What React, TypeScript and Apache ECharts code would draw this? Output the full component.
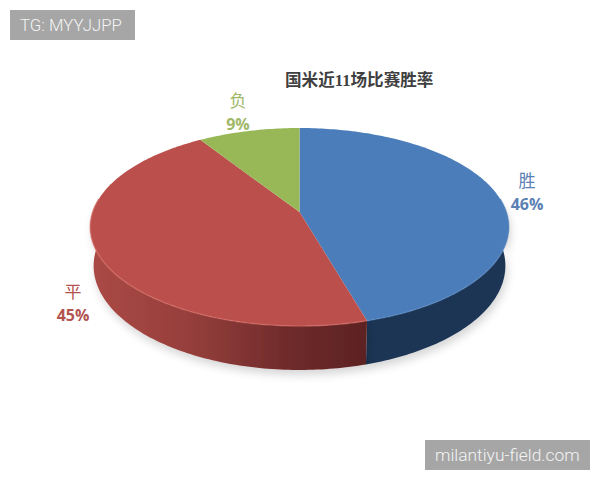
import React, { useEffect, useRef } from "react";
import * as echarts from "echarts";

const categories = ["胜", "平", "负"];
const shares = [45.5, 45.4, 9.1];
const titleText = "国米近11场比赛胜率";
const watermarkLeft = "TG: MYYJJPP";
const watermarkRight = "milantiyu-field.com";

const topColors = ["#4a7db9", "#ba4f4c", "#98b857"];
const textColors = ["#5a80b4", "#b4524f", "#a0b868"];
const rimColors = ["#5c8dc8", "#d86d66", "#a8c868"];
const labelAnchors = [
  [527, 179],
  [73, 290],
  [238, 99],
];

const cx = 299.5;
const k = 0.1515;
const topPlane = { A: 206.8, y0: 212, B: 96.7 };
const basePlane = { A: 203.5, y0: 250, B: 101.8 };

function project(p: { A: number; y0: number; B: number }, deg: number) {
  const a = (deg * Math.PI) / 180;
  const u = Math.sin(a);
  const v = -Math.cos(a);
  const w = 1 - k * v;
  return [cx + (p.A * u) / w, p.y0 + (p.B * v) / w];
}

function arc(p: { A: number; y0: number; B: number }, from: number, to: number) {
  const pts: number[][] = [];
  const n = Math.max(2, Math.ceil(Math.abs(to - from)));
  for (let i = 0; i <= n; i++) pts.push(project(p, from + ((to - from) * i) / n));
  return pts;
}

function wallFill(i: number) {
  if (i === 0) return "#1f3655";
  if (i === 1)
    return new echarts.graphic.LinearGradient(
      90,
      0,
      370,
      0,
      [
        { offset: 0, color: "#ab4945" },
        { offset: 0.35, color: "#963f3c" },
        { offset: 0.7, color: "#702b2b" },
        { offset: 1, color: "#5c2222" },
      ],
      true
    );
  return "#6d8a3e";
}

export default function App() {
  const ref = useRef<HTMLDivElement>(null);
  useEffect(() => {
    const chart = echarts.init(ref.current!, undefined, { renderer: "svg" });
    const total = shares.reduce((s, v) => s + v, 0);
    const renderItem = (params: any, api: any) => {
      const i = params.dataIndex;
      const start = (shares.slice(0, i).reduce((s, v) => s + v, 0) / total) * 360;
      const end = start + (api.value(0) / total) * 360;
      const wallFrom = Math.max(start, 82);
      const wallTo = Math.min(end, 278);
      const children: any[] = [];
      if (wallTo > wallFrom) {
        const outline = [
          ...arc(topPlane, wallFrom, wallTo),
          ...arc(basePlane, wallTo, wallFrom),
        ];
        children.push({
          type: "polygon",
          z2: 1,
          shape: { points: outline },
          style: {
            fill: wallFill(i),
            shadowColor: "rgba(0,0,0,0.16)",
            shadowBlur: 8,
            shadowOffsetX: 2,
            shadowOffsetY: 5,
          },
        });
      }
      children.push({
        type: "polygon",
        z2: 2,
        shape: {
          points: [[cx, topPlane.y0], ...arc(topPlane, start, end)],
        },
        style: { fill: topColors[i] },
      });
      if (wallTo > wallFrom) {
        children.push({
          type: "polyline",
          z2: 3,
          shape: { points: arc(topPlane, wallFrom, wallTo) },
          style: { stroke: rimColors[i], lineWidth: 1.6, fill: "none", opacity: 0.55 },
        });
      }
      const [lx, ly] = labelAnchors[i];
      children.push(
        {
          type: "text",
          z2: 4,
          style: {
            x: lx,
            y: ly,
            text: categories[i],
            fill: textColors[i],
            fontSize: 17,
            fontFamily: '"Noto Sans CJK SC"',
            align: "center",
            verticalAlign: "middle",
          },
        },
        {
          type: "text",
          z2: 4,
          style: {
            x: lx,
            y: ly + 25,
            text: `${Math.round(api.value(0))}%`,
            fill: textColors[i],
            fontSize: 16,
            fontWeight: "bold",
            fontFamily: '"Open Sans"',
            align: "center",
            verticalAlign: "middle",
          },
        }
      );
      return { type: "group", children };
    };
    chart.setOption({
      animation: false,
      backgroundColor: "#ffffff",
      title: {
        text: titleText,
        left: 280,
        top: 67,
        textStyle: {
          color: "#404040",
          fontSize: 16.6,
          fontWeight: "bold",
          fontFamily: '"Liberation Serif","Noto Sans CJK SC"',
        },
      },
      graphic: [
        { type: "rect", shape: { x: 10, y: 10, width: 125, height: 30 }, style: { fill: "#a6a6a6" } },
        {
          type: "text",
          style: {
            x: 20,
            y: 25,
            text: watermarkLeft,
            fill: "#f4f4f4",
            fontSize: 16.8,
            fontFamily: "Roboto",
            fontWeight: 300,
            verticalAlign: "middle",
          },
        },
        { type: "rect", shape: { x: 425, y: 440, width: 165, height: 30 }, style: { fill: "#a6a6a6" } },
        {
          type: "text",
          style: {
            x: 435,
            y: 455,
            text: watermarkRight,
            fill: "#f4f4f4",
            fontSize: 17.4,
            fontFamily: "Roboto",
            fontWeight: 300,
            verticalAlign: "middle",
          },
        },
      ],
      series: [
        {
          type: "custom",
          coordinateSystem: "none",
          renderItem,
          data: shares.map((v, i) => ({ name: categories[i], value: [v] })),
        },
      ],
    });
    return () => chart.dispose();
  }, []);
  return (
    <div
      ref={ref}
      style={{ position: "fixed", left: 0, top: 0, width: 600, height: 480 }}
    />
  );
}
